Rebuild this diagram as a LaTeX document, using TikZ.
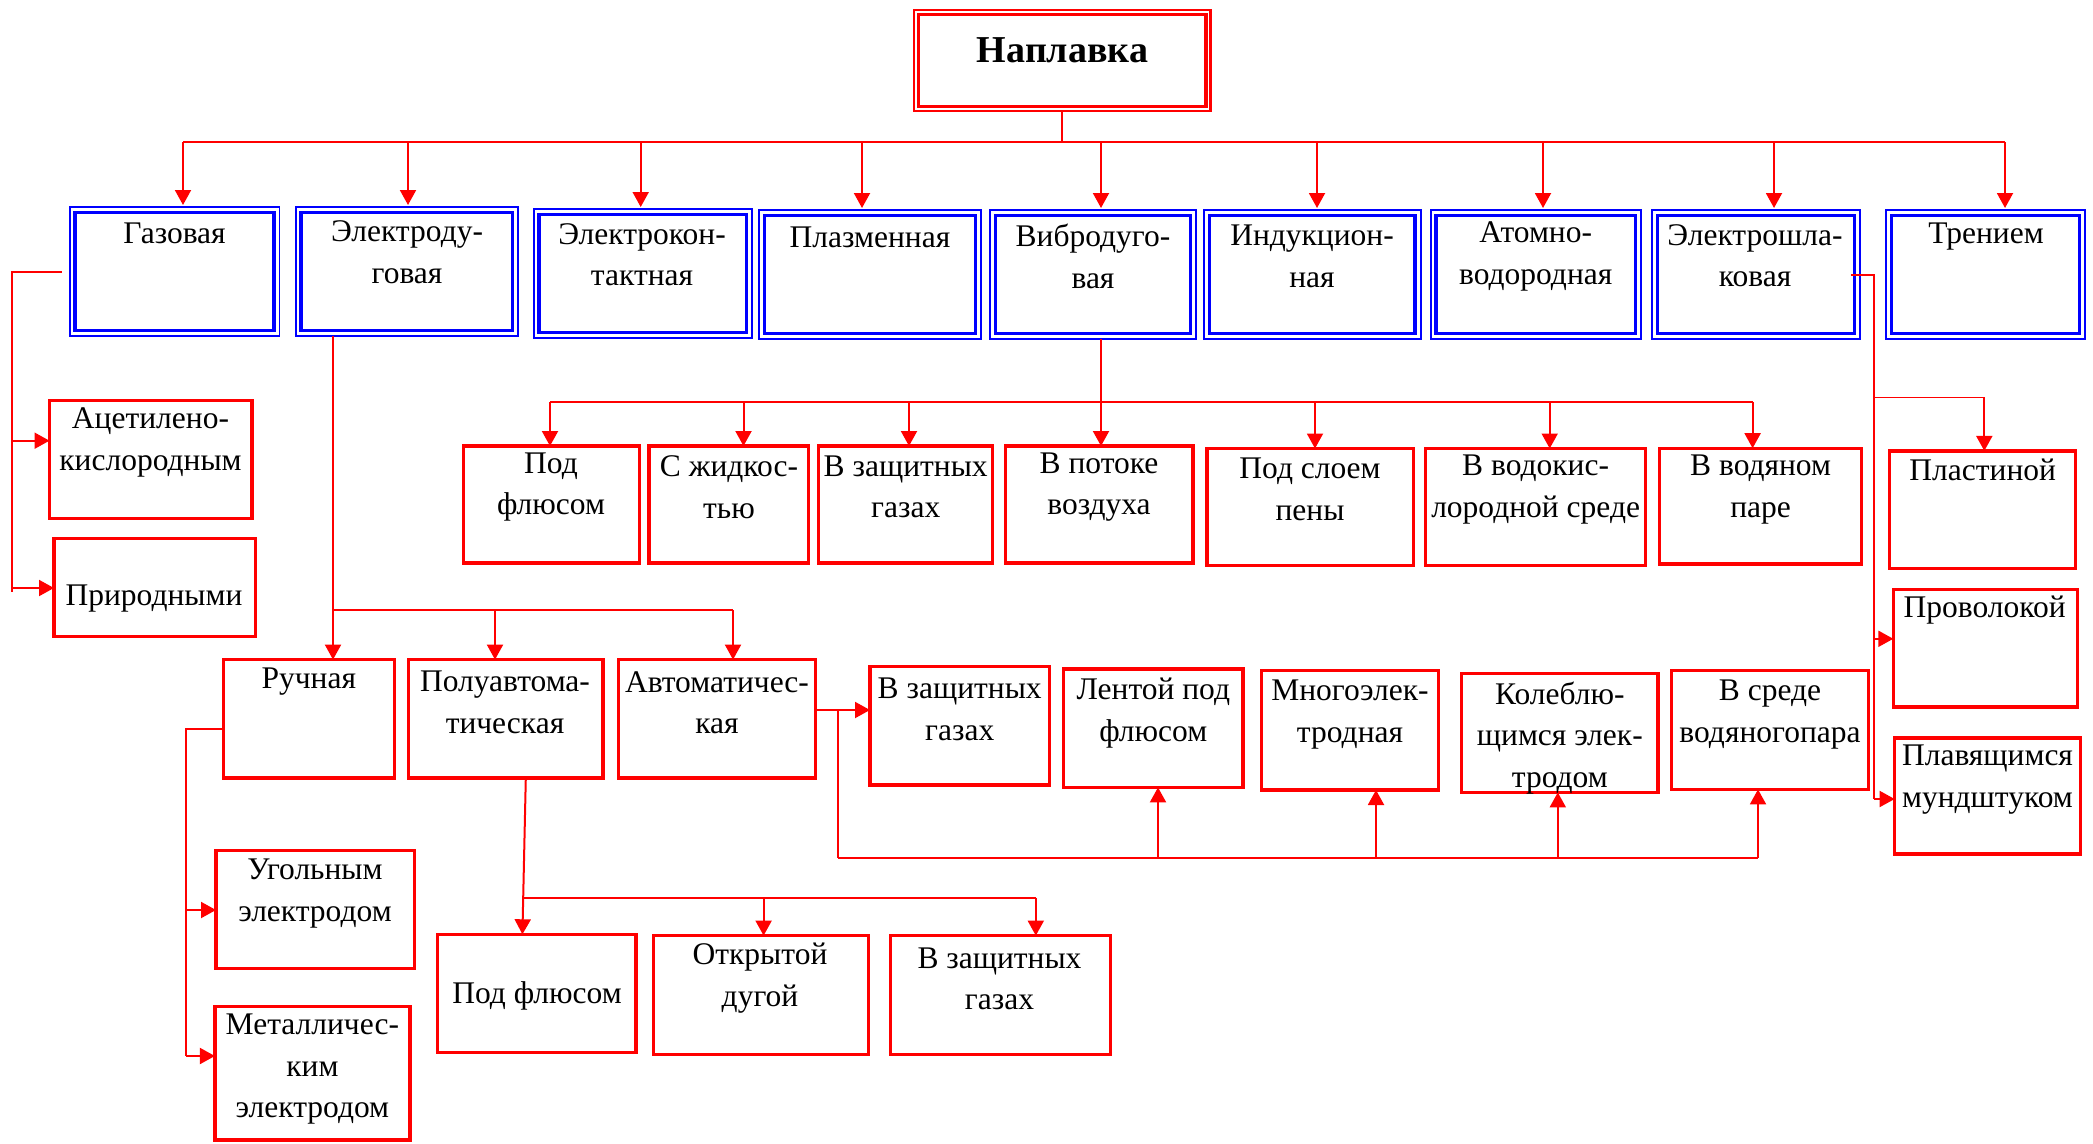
\documentclass[tikz,border=0pt]{standalone}
\usepackage{fontspec}
\setmainfont{Liberation Serif}
\usetikzlibrary{arrows.meta,calc}
\tikzset{
 tx/.style={font=\fontsize{31.5}{41.5}\selectfont, align=center, inner sep=0pt, text=black},
 rb/.style={draw=red, line width=3.2pt, outer sep=0pt, inner sep=0pt},
 bb/.style={draw=blue, line width=1.8pt, outer sep=0pt, inner sep=0pt,
   path picture={\draw[blue, line width=3.6pt] ([xshift=5.5pt,yshift=5.5pt]path picture bounding box.south west) rectangle ([xshift=-5.5pt,yshift=-5.5pt]path picture bounding box.north east);}},
 nb/.style={draw=red, line width=2.5pt, outer sep=0pt, inner sep=0pt,
   path picture={\draw[red, line width=3.3pt] ([xshift=4.6pt,yshift=4.6pt]path picture bounding box.south west) rectangle ([xshift=-4.6pt,yshift=-4.6pt]path picture bounding box.north east);}},
 ln/.style={draw=red, line width=2pt},
 bus/.style={draw=red, line width=1.6pt},
 arr/.style={ln, -{Triangle[length=15pt,width=16pt]}},
}
\newcommand\mkbox[6]{\node[#1, minimum width={#4-#3}, minimum height={#6-#5}] (#2) at ({(#3+#4)/2},{(#5+#6)/2}) {};}
\begin{document}
\begin{tikzpicture}[x=1pt,y=-1pt]
\useasboundingbox[fill=white] (0,0) rectangle (2093,1143);
% title
\mkbox{nb}{nap}{914}{1210.7}{10.2}{110.8}
\node[font=\fontsize{38}{44}\selectfont\bfseries, inner sep=0pt] (nap-t) at (1062.5,50) {Наплавка};
% blue boxes
\mkbox{bb}{gaz}{69.6}{279.4}{207}{336}
\mkbox{bb}{eld}{295.6}{518}{207}{336}
\mkbox{bb}{elk}{533.6}{751.8}{209}{338}
\mkbox{bb}{plz}{759}{981}{210}{339}
\mkbox{bb}{vib}{990}{1196}{210}{339}
\mkbox{bb}{ind}{1204}{1420.6}{210}{339}
\mkbox{bb}{atm}{1430.6}{1640.8}{210}{339}
\mkbox{bb}{esl}{1652}{1860}{210}{339}
\mkbox{bb}{tre}{1886}{2085}{210}{339}
\node[tx] (gaz-t) at (174.5,233) {Газовая};
\node[tx] (eld-t) at (407,252) {Электроду-\\говая};
\node[tx] (elk-t) at (642,254.5) {Электрокон-\\тактная};
\node[tx] (plz-t) at (870,237.6) {Плазменная};
\node[tx] (vib-t) at (1093,256.5) {Вибродуго-\\вая};
\node[tx] (ind-t) at (1312,256.5) {Индукцион-\\ная};
\node[tx] (atm-t) at (1535.7,256.5) {Атомно-\\водородная};
\node[tx] (esl-t) at (1755,255.5) {Электрошла-\\ковая};
\node[tx] (tre-t) at (1986,237) {Трением};
% top connectors
\coordinate (busL) at (183,142);
\coordinate (busR) at (2005,142);
\draw[ln] (nap.south) -- (nap.south |- busL);
\draw[bus] (busL) -- (busR);
\foreach \x/\n in {183/gaz, 408/eld, 640.7/elk, 862/plz, 1101/vib, 1317/ind, 1543/atm, 1774/esl, 2005/tre}{
  \coordinate (t\n) at (\x,142);
  \draw[arr] (t\n) -- ([yshift=2pt]t\n |- \n.north);
}
% Gas branch
\mkbox{rb}{acet}{49.5}{252}{400.5}{518.5}
\mkbox{rb}{prir}{54}{255.5}{538.8}{636.5}
\node[tx] (acet-t) at (150.5,442.5) {Ацетилено-\\кислородным};
\node[tx] (prir-t) at (154,599) {Природными};
\coordinate (g2) at (11.8,591.7);
\draw[ln] ($(gaz.west)+(-8,0)$) -| (g2);
\coordinate (ga) at (11.8,440.7);
\coordinate (gb) at (11.8,588);
\draw[arr] (ga) -- (ga -| acet.west);
\draw[arr] (gb) -- (gb -| prir.west);
% Vibro branch
\mkbox{rb}{pfa}{463.4}{639.1}{446}{563}
\mkbox{rb}{sg}{649}{808.6}{446}{563}
\mkbox{rb}{vza}{818.6}{992.8}{446}{563}
\mkbox{rb}{vp}{1005.4}{1193}{446}{563}
\mkbox{rb}{ps}{1206.9}{1413.3}{448.5}{565.5}
\mkbox{rb}{vv}{1425.8}{1645.5}{448.5}{565.5}
\mkbox{rb}{vpar}{1659.4}{1861.8}{448.2}{564}
\node[tx] (pfa-t) at (551,487) {Под\\флюсом};
\node[tx] (sg-t) at (729,487) {С жидкос-\\тью};
\node[tx] (vza-t) at (905.7,487) {В защитных\\газах};
\node[tx] (vp-t) at (1099,487) {В потоке\\воздуха};
\node[tx] (ps-t) at (1310,489.5) {Под слоем\\пены};
\node[tx] (vv-t) at (1535.6,489.5) {В водокис-\\лородной среде};
\node[tx] (vpar-t) at (1760.6,489.5) {В водяном\\паре};
\coordinate (v0) at (1101,401.8);
\coordinate (vL) at (550,401.8);
\coordinate (vR) at (1752.6,401.8);
\draw[ln] (v0 |- vib.south) -- (v0);
\draw[bus] (vL) -- (vR);
\foreach \x/\n in {550/pfa, 743.5/sg, 909/vza, 1101/vp, 1315/ps, 1549.7/vv, 1752.6/vpar}{
  \coordinate (w\n) at (\x,401.8);
  \draw[arr] (w\n) -- (w\n |- \n.north);
}
% Electrodug branch
\mkbox{rb}{ruch}{223.2}{394.8}{659.6}{778}
\mkbox{rb}{pa}{408.6}{603}{659.6}{778}
\mkbox{rb}{avt}{618.3}{815.4}{659.6}{778}
\node[tx] (ruch-t) at (308.8,681.7) {Ручная};
\node[tx] (pa-t) at (505,702.5) {Полуавтома-\\тическая};
\node[tx] (avt-t) at (717,702.5) {Автоматичес-\\кая};
\coordinate (e1) at (333,610);
\coordinate (e2) at (495,610);
\coordinate (e3) at (733,610);
\draw[ln] (e1 |- eld.south) -- (e1) -- (e3);
\draw[arr] (e1) -- (e1 |- ruch.north);
\draw[arr] (e2) -- (e2 |- pa.north);
\draw[arr] (e3) -- (e3 |- avt.north);
% Manual branch
\mkbox{rb}{ugl}{216}{414.2}{850.5}{968.5}
\mkbox{rb}{met}{214.9}{410}{1006.5}{1140}
\node[tx] (ugl-t) at (315,893.5) {Угольным\\электродом};
\node[tx] (met-t) at (312.4,1069.3) {Металличес-\\ким\\электродом};
\coordinate (r0) at (186,729);
\coordinate (r1) at (186,910);
\coordinate (r3) at (186,1056);
\draw[ln] (r0 -| ruch.west) -- (r0) -- (r3);
\draw[arr] (r1) -- (r1 -| ugl.west);
\draw[arr] (r3) -- (r3 -| met.west);
% Semi-automatic branch
\mkbox{rb}{pfc}{437.4}{636}{934.3}{1052.4}
\mkbox{rb}{otk}{653.1}{868.1}{935.6}{1054.4}
\mkbox{rb}{vzc}{890.6}{1110.4}{935.6}{1054.4}
\node[tx] (pfc-t) at (537,996) {Под флюсом};
\node[tx] (otk-t) at (760,978) {Открытой\\дугой};
\node[tx] (vzc-t) at (999.5,978.7) {В защитных\\газах};
\draw[arr] ($(pa.south)+(20,0)$) -- ($(pfc.north)+(-14.3,0)$);
\coordinate (p0) at (523.6,897.7);
\coordinate (p1) at (763.6,897.7);
\coordinate (p2) at (1035.8,897.7);
\draw[bus] (p0) -- (p2);
\draw[arr] (p1) -- (p1 |- otk.north);
\draw[arr] (p2) -- (p2 |- vzc.north);
% Automatic branch
\mkbox{rb}{vzb}{870}{1049.4}{666.6}{785}
\mkbox{rb}{lent}{1063.6}{1243}{668.9}{787.4}
\mkbox{rb}{mng}{1261.4}{1438.4}{670.6}{790}
\mkbox{rb}{kol}{1461.6}{1658}{673.3}{792.4}
\mkbox{rb}{vsr}{1671.3}{1868.4}{670.6}{789.4}
\node[tx] (vzb-t) at (959.7,709.5) {В защитных\\газах};
\node[tx] (lent-t) at (1153.3,713) {Лентой под\\флюсом};
\node[tx] (mng-t) at (1350,714.5) {Многоэлек-\\тродная};
\node[tx] (kol-t) at (1559.8,738) {Колеблю-\\щимся элек-\\тродом};
\node[tx] (vsr-t) at (1770,714.5) {В среде\\водяногопара};
\coordinate (a0) at (837.6,710);
\coordinate (a1) at (837.6,858);
\coordinate (a5) at (1758,858);
\draw[arr] (a0 -| avt.east) -- (a0 -| vzb.west);
\draw[ln] (a0) -- (a1);
\draw[bus] (a1) -- (a5);
\foreach \x/\n in {1158/lent, 1376/mng, 1557.8/kol, 1758/vsr}{
  \coordinate (u\n) at (\x,858);
  \draw[arr] (u\n) -- (u\n |- \n.south);
}
% Electroslag branch
\mkbox{rb}{pl}{1889.6}{2075.1}{450.9}{568.3}
\mkbox{rb}{prov}{1893.3}{2077.7}{589.6}{707}
\mkbox{rb}{plav}{1894.6}{2080.1}{738}{854}
\node[tx] (pl-t) at (1982.7,469.7) {Пластиной};
\node[tx] (prov-t) at (1984.7,609.8) {Проволокой};
\node[tx] (plav-t) at (1987.5,779.5) {Плавящимся\\мундштуком};
\coordinate (s0) at (1874.3,397.3);
\coordinate (s1) at (1874.3,638.8);
\coordinate (s2) at (1874.3,799);
\coordinate (s3) at (1984.3,397.3);
\draw[ln] ($(esl.east)+(-9,0)$) -| (s2);
\draw[bus] (s0) -- (s3);
\draw[arr] (s3) -- (s3 |- pl.north);
\draw[arr] (s1) -- (s1 -| prov.west);
\draw[arr] (s2) -- (s2 -| plav.west);
\end{tikzpicture}
\end{document}
